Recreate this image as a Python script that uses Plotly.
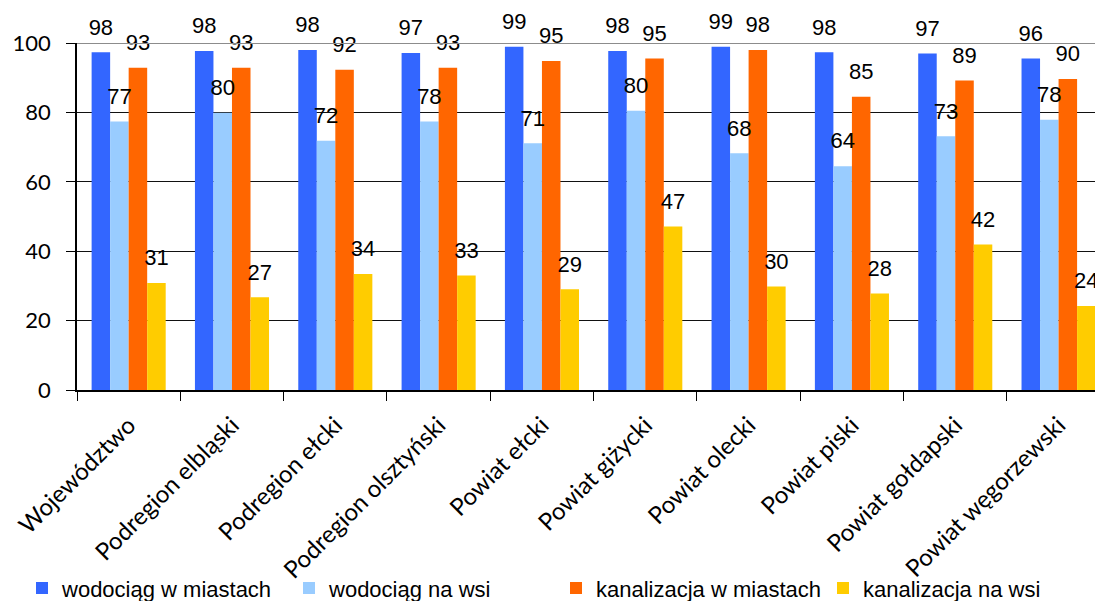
import plotly.graph_objects as go

categories = ["Województwo", "Podregion elbląski", "Podregion ełcki", "Podregion olsztyński",
              "Powiat ełcki", "Powiat giżycki", "Powiat olecki", "Powiat piski",
              "Powiat gołdapski", "Powiat węgorzewski"]

series_names = ["wodociąg w miastach", "wodociąg na wsi", "kanalizacja w miastach", "kanalizacja na wsi"]

wod_miasto = [97.3, 97.7, 98.0, 97.1, 98.9, 97.7, 98.9, 97.3, 97.0, 95.5]
wod_wies = [77.4, 79.9, 71.8, 77.4, 71.1, 80.5, 68.2, 64.5, 73.1, 77.9]
kan_miasto = [92.9, 92.9, 92.3, 92.9, 94.8, 95.5, 98.0, 84.5, 89.2, 89.6]
kan_wies = [30.8, 26.7, 33.4, 33.0, 29.0, 47.1, 29.8, 27.8, 41.9, 24.2]

lab_wod_miasto = [98, 98, 98, 97, 99, 98, 99, 98, 97, 96]
lab_wod_wies = [77, 80, 72, 78, 71, 80, 68, 64, 73, 78]
lab_kan_miasto = [93, 93, 92, 93, 95, 95, 98, 85, 89, 90]
lab_kan_wies = [31, 27, 34, 33, 29, 47, 30, 28, 42, 24]

y_ticks = [0, 20, 40, 60, 80, 100]

colors = ["#3366FF", "#99CCFF", "#FF6600", "#FFCC00"]

values = [wod_miasto, wod_wies, kan_miasto, kan_wies]
labels = [lab_wod_miasto, lab_wod_wies, lab_kan_miasto, lab_kan_wies]

fig = go.Figure()
for i, (name, vals, col) in enumerate(zip(series_names, values, colors)):
    fig.add_trace(go.Bar(
        x=categories, y=vals, name=name, marker_color=col,
        marker_line_width=0, offsetgroup=str(i), hoverinfo="skip",
    ))
for i, (vals, labs) in enumerate(zip(values, labels)):
    fig.add_trace(go.Scatter(
        x=categories, y=vals, text=[str(v) for v in labs], mode="markers+text",
        textposition="top center", marker=dict(size=18, opacity=0),
        textfont=dict(family="Liberation Sans, Arial, sans-serif", size=22, color="#000"),
        offsetgroup=str(i), showlegend=False, cliponaxis=False, hoverinfo="skip",
    ))

fig.update_layout(
    width=1103, height=601,
    margin=dict(l=69, r=8, t=35, b=219, autoexpand=False),
    paper_bgcolor="white", plot_bgcolor="white",
    barmode="group", bargap=0.283, bargroupgap=0,
    scattermode="group", scattergap=0.283,
    showlegend=True,
    legend=dict(
        orientation="h", x=-0.0536, xanchor="left", y=-0.571, yanchor="middle",
        font=dict(family="Liberation Sans, Arial, sans-serif", size=22, color="#000"),
        entrywidth=222, entrywidthmode="pixels", itemwidth=30,
        bgcolor="rgba(0,0,0,0)", traceorder="normal",
    ),
    xaxis=dict(
        categoryorder="array", categoryarray=categories,
        range=[-0.5, 9.43], ticks="outside", tickson="boundaries", ticklen=9,
        tickcolor="#000", tickwidth=1.3, showline=True, linecolor="#000", linewidth=1.5,
        tickangle=-45, tickfont=dict(family="Lato, sans-serif", size=24, color="#000"),
        ticklabelstandoff=10, showgrid=False, fixedrange=True,
    ),
    yaxis=dict(
        range=[0, 100], tickvals=y_ticks, ticks="outside", ticklen=9, tickcolor="#000",
        tickwidth=1.3, showline=True, linecolor="#000", linewidth=1.5,
        showgrid=True, gridcolor="#111", gridwidth=1, zeroline=False,
        tickfont=dict(family="Lato, sans-serif", size=22, color="#000"),
        ticklabelstandoff=11, fixedrange=True,
    ),
    shapes=[dict(type="line", xref="paper", yref="y", x0=0, x1=1, y0=100, y1=100,
                 line=dict(color="#8c8c8c", width=2), layer="above")],
)

fig.write_html("out.html")
